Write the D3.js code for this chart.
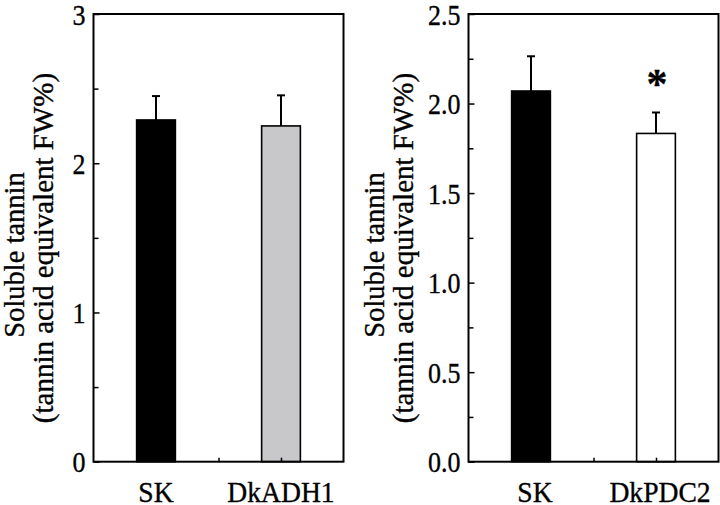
<!DOCTYPE html>
<html>
<head>
<meta charset="utf-8">
<script src="https://cdn.jsdelivr.net/npm/d3@7"></script>
<style>
  html, body { margin: 0; padding: 0; background: #fff; }
  svg { display: block; }
  text { font-family: "Liberation Serif", "Times New Roman", serif; fill: #000; stroke: #000; stroke-width: 0.35px; }
</style>
</head>
<body>
<svg id="chart" width="720" height="505"></svg>
<script>
// ---- data ----
const leftCategories = ["SK", "DkADH1"];
const leftValues = [2.29, 2.25];
const leftErrors = [0.16, 0.205];
const leftColors = ["#000000", "#c8c8ca"];
const leftTicks = [0, 1, 2, 3];
const leftTickLabels = ["0", "1", "2", "3"];

const rightCategories = ["SK", "DkPDC2"];
const rightValues = [2.07, 1.833];
const rightErrors = [0.194, 0.117];
const rightColors = ["#000000", "#ffffff"];
const rightTicks = [0, 0.5, 1.0, 1.5, 2.0, 2.5];
const rightTickLabels = ["0.0", "0.5", "1.0", "1.5", "2.0", "2.5"];
const rightSignificance = ["", "*"];

const yTitle1 = "Soluble tannin";
const yTitle2 = "(tannin acid equivalent FW%)";

const svg = d3.select("#chart");
const TICK_SX = 0.88, TICK_FS = 29.5, CAT_SX = 0.92, CAT_FS = 30;

function panel(opt) {
  const g = svg.append("g");
  const x = d3.scaleLinear().domain([0, 4]).range([opt.x0, opt.x1]);
  const y = d3.scaleLinear().domain([0, opt.ymax]).range([opt.y1, opt.y0]);
  const catPos = [1, 3];
  const bw = 0.62;

  // bars
  g.selectAll("rect.bar").data(opt.values).enter().append("rect")
    .attr("class", "bar")
    .attr("x", (d, i) => x(catPos[i] - bw / 2))
    .attr("width", (d, i) => x(catPos[i] + bw / 2) - x(catPos[i] - bw / 2))
    .attr("y", d => y(d))
    .attr("height", d => y(0) - y(d))
    .attr("fill", (d, i) => opt.colors[i])
    .attr("stroke", "#000")
    .attr("stroke-width", 1.6);

  // error bars (upper only)
  opt.values.forEach((v, i) => {
    const cx = x(catPos[i]);
    const top = y(v + opt.errors[i]);
    g.append("line").attr("x1", cx).attr("x2", cx)
      .attr("y1", y(v)).attr("y2", top)
      .attr("stroke", "#000").attr("stroke-width", 2);
    g.append("line").attr("x1", cx - 4).attr("x2", cx + 4)
      .attr("y1", top).attr("y2", top)
      .attr("stroke", "#000").attr("stroke-width", 2);
    if (opt.sig && opt.sig[i]) {
      g.append("text").attr("x", cx + 1).attr("y", top - 14)
        .attr("text-anchor", "middle")
        .attr("font-size", 42).attr("font-weight", "bold")
        .text(opt.sig[i]);
    }
  });

  // y axis: major ticks inward
  const pad = 8;
  const yAxis = d3.axisLeft(y).tickValues(opt.ticks)
    .tickFormat((d, i) => opt.tickLabels[i]).tickSizeInner(-6).tickSizeOuter(0).tickPadding(pad);
  const ya = g.append("g").attr("transform", `translate(${opt.x0},0)`).call(yAxis);
  ya.select(".domain").remove();
  ya.selectAll("line").attr("stroke", "#000").attr("stroke-width", 1.5);
  ya.selectAll("text")
    .attr("font-size", TICK_FS)
    .attr("x", -pad / TICK_SX)
    .attr("dy", "0.34em")
    .attr("transform", `scale(${TICK_SX},1)`);

  // minor ticks
  const minor = d3.axisLeft(y).tickValues(opt.minor).tickFormat("").tickSizeInner(-5).tickSizeOuter(0);
  const ym = g.append("g").attr("transform", `translate(${opt.x0},0)`).call(minor);
  ym.select(".domain").remove();
  ym.selectAll("line").attr("stroke", "#000").attr("stroke-width", 1.5);

  // x axis ticks inward, labels at categories
  const xAxis = d3.axisBottom(x).tickValues([1, 2, 3]).tickFormat("").tickSizeInner(-4).tickSizeOuter(0);
  const xa = g.append("g").attr("transform", `translate(0,${opt.y1})`).call(xAxis);
  xa.select(".domain").remove();
  xa.selectAll("line").attr("stroke", "#000").attr("stroke-width", 1.5);

  g.selectAll("text.cat").data(opt.categories).enter().append("text")
    .attr("class", "cat")
    .attr("transform", (d, i) => `translate(${x(catPos[i]) + opt.labelDx},502) scale(${CAT_SX},1)`)
    .attr("text-anchor", "middle")
    .attr("font-size", CAT_FS)
    .text(d => d);

  // frame
  g.append("rect").attr("x", opt.x0).attr("y", opt.y0)
    .attr("width", opt.x1 - opt.x0).attr("height", opt.y1 - opt.y0)
    .attr("fill", "none").attr("stroke", "#000").attr("stroke-width", 2);

  // y title
  g.append("text").attr("transform", `translate(${opt.t1},255) rotate(-90)`)
    .attr("text-anchor", "middle").attr("font-size", 28.5).text(yTitle1);
  g.append("text").attr("transform", `translate(${opt.t2},248) rotate(-90)`)
    .attr("text-anchor", "middle").attr("font-size", 29).text(yTitle2);
}

panel({
  x0: 93.5, x1: 343.5, y0: 14, y1: 461.7, ymax: 3,
  values: leftValues, errors: leftErrors, colors: leftColors,
  categories: leftCategories, ticks: leftTicks, tickLabels: leftTickLabels,
  minor: [0.5, 1.5, 2.5], t1: 24, t2: 53, labelDx: 0
});

panel({
  x0: 468.5, x1: 718.5, y0: 14, y1: 461.7, ymax: 2.5,
  values: rightValues, errors: rightErrors, colors: rightColors,
  categories: rightCategories, ticks: rightTicks, tickLabels: rightTickLabels,
  minor: [0.25, 0.75, 1.25, 1.75, 2.25], t1: 384, t2: 413, labelDx: 4,
  sig: rightSignificance
});
</script>
</body>
</html>
